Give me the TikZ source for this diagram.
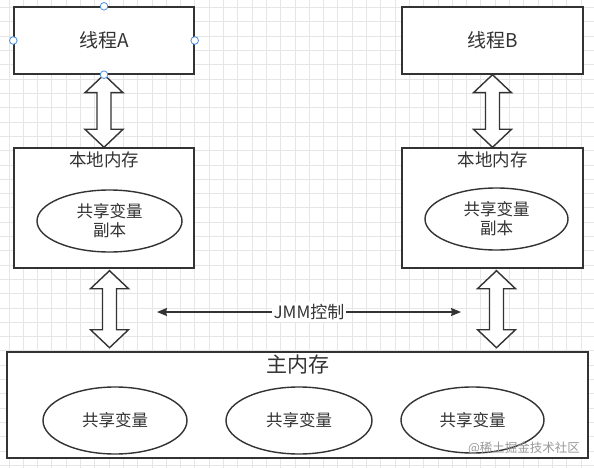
\documentclass[tikz,border=0pt]{standalone}
\usepackage{fontspec}
\setmainfont{Noto Sans CJK SC}
\usetikzlibrary{shapes.geometric, arrows.meta, calc}

\definecolor{ink}{HTML}{333333}
\definecolor{gridgray}{HTML}{E6E6E6}
\definecolor{handleblue}{HTML}{4A90E2}

\tikzset{
  box/.style={draw=ink, line width=1.4pt, fill=white, inner sep=0pt, text=ink},
  var/.style={ellipse, draw=ink, line width=1.4pt, fill=white, inner sep=0pt,
    text=ink, align=center, font=\fontsize{16.5}{19}\selectfont},
  title/.style={text=ink, inner sep=0pt},
  fatarrow/.style={draw=ink, line width=1.4pt, fill=white, line join=miter},
  gridline/.style={gridgray, line width=0.6pt},
  handle/.style={draw=handleblue, fill=white, line width=0.8pt}
}

% fat double arrow between two tips
\newcommand{\fatarrow}[2]{%
  \draw[fatarrow] let \p1=(#1), \p2=(#2) in
    (\x1,\y1) -- (\x1+19pt,\y1-18pt) -- (\x1+7pt,\y1-18pt) -- (\x1+7pt,\y2+18pt)
    -- (\x1+19pt,\y2+18pt) -- (\x1,\y2) -- (\x1-19pt,\y2+18pt) -- (\x1-7pt,\y2+18pt)
    -- (\x1-7pt,\y1-18pt) -- (\x1-19pt,\y1-18pt) -- cycle;}

\begin{document}
\begin{tikzpicture}[x=1pt, y=-1pt]

\useasboundingbox[fill=white] (0,0) rectangle (594,468);

% Background grid
\foreach \gx in {0,...,41} \draw[gridline] ({8.8+14.3*\gx},0) -- ++(0,468);
\foreach \gy in {0,...,32} \draw[gridline] (0,{7.5+14.3*\gy}) -- ++(594,0);

% Threads
\node[box, minimum width=180, minimum height=67, font=\fontsize{19}{22}\selectfont] (threadA) at (104,40.5) {线程A};
\node[box, minimum width=181, minimum height=67, font=\fontsize{19}{22}\selectfont] (threadB) at (492.5,40.5) {线程B};

% Local memories
\node[box, minimum width=180, minimum height=120] (localA) at (104,208) {};
\node[box, minimum width=181, minimum height=120] (localB) at (492.5,208) {};
\node[title, font=\fontsize{17.5}{20}\selectfont] (localAtitle) at (104,160) {本地内存};
\node[title, font=\fontsize{17.5}{20}\selectfont] (localBtitle) at (492.5,160) {本地内存};

\node[var, minimum width=145, minimum height=62] (copyA) at (109.5,221) {共享变量\\副本};
\node[var, minimum width=143, minimum height=62] (copyB) at (496.5,219) {共享变量\\副本};

% Main memory
\node[box, minimum width=581, minimum height=106] (mainmem) at (297.5,405) {};
\node[title, font=\fontsize{21}{24}\selectfont] (maintitle) at (298,365) {主内存};

\node[var, minimum width=144, minimum height=67] (varA) at (115,420.5) {共享变量};
\node[var, minimum width=146, minimum height=67] (varB) at (299,420.5) {共享变量};
\node[var, minimum width=143, minimum height=66] (varC) at (472.5,420) {共享变量};

% Thread <-> local memory
\fatarrow{threadA.south}{localA.north}
\fatarrow{threadB.south}{localB.north}

% Local memory <-> main memory
\coordinate (upA) at ($(localA.south)+(5.5,2)$);
\coordinate (downA) at ($(upA)+(0,77)$);
\coordinate (upB) at ($(localB.south)+(4,2)$);
\coordinate (downB) at ($(upB)+(0,77)$);
\fatarrow{upA}{downA}
\fatarrow{upB}{downB}

% JMM control
\coordinate (jmmL) at (157,312);
\coordinate (jmmR) at (461,312);
\draw[ink, line width=1.2pt, {Stealth[length=10pt,width=8pt,inset=1pt]}-{Stealth[length=10pt,width=8pt,inset=1pt]}]
  (jmmL) -- node[fill=white, text=ink, inner sep=2pt, font=\fontsize{17}{20}\selectfont] (jmmlabel) {JMM控制} (jmmR);

% Selection handles
\foreach \h in {north, south, east, west}
  \draw[handle] (threadA.\h) circle (3.8);

% Watermark
\node[text=black!40, inner sep=0pt, font=\fontsize{12.5}{15}\selectfont] (mark) at (524,448) {@稀土掘金技术社区};

\end{tikzpicture}
\end{document}
